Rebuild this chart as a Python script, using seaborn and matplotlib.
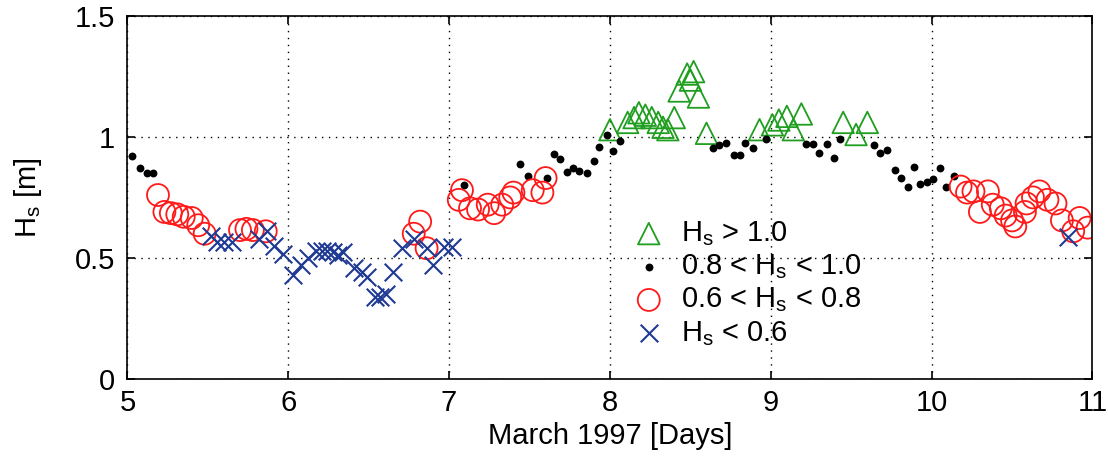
import pandas as pd
import seaborn as sns
import matplotlib.pyplot as plt

# Hs > 1.0 (triangles)
high_days = [8.00, 8.11, 8.15, 8.18, 8.22, 8.26, 8.30, 8.33, 8.36, 8.40, 8.43, 8.48,
             8.50, 8.52, 8.55, 8.60, 8.93, 9.01, 9.05, 9.10, 9.14, 9.19, 9.45, 9.53, 9.60]
high_hs = [1.03, 1.06, 1.08, 1.10, 1.09, 1.08, 1.06, 1.04, 1.03, 1.08, 1.19, 1.26,
           1.235, 1.27, 1.165, 1.015, 1.03, 1.05, 1.07, 1.085, 1.03, 1.095, 1.06, 1.01, 1.06]

# 0.8 < Hs < 1.0 (dots)
mid_days = [5.03, 5.08, 5.12, 5.16, 7.09, 7.44, 7.49, 7.61, 7.65, 7.69, 7.73, 7.77,
            7.81, 7.86, 7.90, 7.93, 7.98, 8.02, 8.06, 8.64, 8.68, 8.72, 8.77, 8.81,
            8.84, 8.89, 8.97, 9.22, 9.26, 9.30, 9.35, 9.39, 9.43, 9.64, 9.68, 9.72,
            9.77, 9.81, 9.85, 9.89, 9.93, 9.97, 10.01, 10.05, 10.09, 10.14]
mid_hs = [0.92, 0.87, 0.85, 0.85, 0.80, 0.89, 0.84, 0.83, 0.93, 0.91, 0.855, 0.87,
          0.86, 0.85, 0.90, 0.96, 1.01, 0.94, 0.985, 0.955, 0.965, 0.975, 0.925, 0.925,
          0.975, 0.955, 0.99, 0.97, 0.97, 0.935, 0.97, 0.915, 0.99, 0.965, 0.935, 0.945,
          0.865, 0.83, 0.795, 0.875, 0.805, 0.815, 0.825, 0.87, 0.795, 0.84]

# 0.6 < Hs < 0.8 (circles)
low_days = [5.19, 5.23, 5.27, 5.31, 5.35, 5.40, 5.44, 5.48, 5.70, 5.74, 5.78, 5.86,
            6.78, 6.82, 6.86, 7.06, 7.08, 7.13, 7.18, 7.24, 7.28, 7.33, 7.38, 7.40,
            7.52, 7.58, 7.60, 10.18, 10.22, 10.26, 10.30, 10.35, 10.38, 10.43, 10.46,
            10.50, 10.52, 10.58, 10.59, 10.63, 10.67, 10.72, 10.77, 10.81, 10.88,
            10.92, 10.97]
low_hs = [0.76, 0.69, 0.685, 0.68, 0.67, 0.665, 0.635, 0.60, 0.615, 0.62, 0.615, 0.61,
          0.60, 0.65, 0.54, 0.74, 0.78, 0.705, 0.70, 0.72, 0.685, 0.72, 0.75, 0.77,
          0.78, 0.77, 0.83, 0.795, 0.77, 0.775, 0.69, 0.775, 0.72, 0.705, 0.675,
          0.655, 0.63, 0.69, 0.725, 0.75, 0.775, 0.74, 0.725, 0.655, 0.61,
          0.665, 0.625]

# Hs < 0.6 (crosses)
vlow_days = [5.52, 5.56, 5.60, 5.65, 5.82, 5.87, 5.91, 5.97, 6.03, 6.08, 6.12, 6.17,
             6.21, 6.24, 6.28, 6.31, 6.34, 6.41, 6.46, 6.49, 6.54, 6.57, 6.61, 6.65,
             6.71, 6.78, 6.86, 6.90, 6.97, 7.02, 10.85]
vlow_hs = [0.59, 0.565, 0.565, 0.565, 0.58, 0.61, 0.55, 0.515, 0.43, 0.47, 0.50, 0.53,
           0.53, 0.53, 0.525, 0.51, 0.525, 0.46, 0.44, 0.42, 0.34, 0.34, 0.35, 0.44,
           0.54, 0.58, 0.54, 0.47, 0.545, 0.545, 0.585]

sns.set_style("ticks")
plt.rcParams['font.family'] = ['Liberation Sans', 'DejaVu Sans']
plt.rcParams['mathtext.fontset'] = 'custom'
plt.rcParams['mathtext.rm'] = 'Liberation Sans'
plt.rcParams['mathtext.it'] = 'Liberation Sans'
plt.rcParams['text.color'] = 'black'
plt.rcParams['axes.labelcolor'] = 'black'
plt.rcParams['xtick.color'] = 'black'
plt.rcParams['ytick.color'] = 'black'

fig = plt.figure(figsize=(11.08, 4.57), dpi=100)
ax = fig.add_axes([0.115, 0.171, 0.871, 0.794])

sns.scatterplot(x=high_days, y=high_hs, marker='^', s=240, facecolors='none',
                edgecolor='#1f9e1f', linewidth=1.3, label=r'H$_\mathrm{s}$ > 1.0', ax=ax)
sns.scatterplot(x=mid_days, y=mid_hs, marker='o', s=32, color='black',
                edgecolor='black', linewidth=0, label=r'0.8 < H$_\mathrm{s}$ < 1.0', ax=ax)
sns.scatterplot(x=low_days, y=low_hs, marker='o', s=250, facecolors='none',
                edgecolor='#ff1a1a', linewidth=1.3, label=r'0.6 < H$_\mathrm{s}$ < 0.8', ax=ax)
sns.scatterplot(x=vlow_days, y=vlow_hs, marker='x', s=160, color='#1f3a93',
                linewidth=1.5, label=r'H$_\mathrm{s}$ < 0.6', ax=ax)

ax.set_xlim(5, 11)
ax.set_ylim(0, 1.5)
ax.set_xticks([5, 6, 7, 8, 9, 10, 11])
ax.set_yticks([0, 0.5, 1, 1.5])
ax.set_yticklabels(['0', '0.5', '1', '1.5'])
ax.grid(True, linestyle=(0, (1, 4)), color='black', linewidth=1.0)
ax.tick_params(direction='in', labelsize=21, length=6, width=1.2, top=True, right=True)
ax.tick_params(axis='x', pad=7)
ax.tick_params(axis='y', pad=9)
for sp in ax.spines.values():
    sp.set_visible(True)
    sp.set_linewidth(1.2)
    sp.set_color('black')

ax.set_xlabel('March 1997 [Days]', fontsize=21, labelpad=4)
ax.set_ylabel(r'H$_\mathrm{s}$ [m]', fontsize=21, labelpad=22)

ax.legend(loc='upper left', bbox_to_anchor=(0.51, 0.48), frameon=False, fontsize=21,
          handlelength=1.0, handletextpad=0.6, labelspacing=0.15, borderpad=0.0)

plt.savefig('out.png', dpi=100)
print("File successfully saved.")
